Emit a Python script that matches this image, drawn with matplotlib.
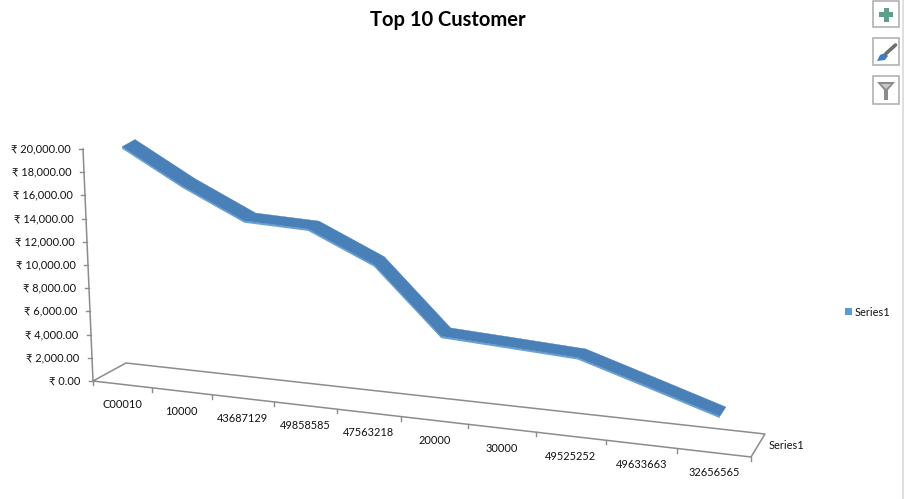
"""
Top 10 Customer - flat redraw of a spreadsheet 3D line chart.
The 3D look comes from a small floor homography, done by hand.
"""

import numpy as np
import matplotlib
matplotlib.use("Agg")
import matplotlib.pyplot as plt
from matplotlib.patches import Rectangle, Polygon

FONT = ['Lato', 'Noto Sans', 'DejaVu Sans']
plt.rcParams['font.family'] = FONT

customers = ['C00010', '10000', '43687129', '49858585', '47563218',
             '20000', '30000', '49525252', '49633663', '32656565']
sales = [20000, 17200, 14800, 14700, 12240, 6720, 6470, 6200, 4400, 2550]
value_ticks = [0, 2000, 4000, 6000, 8000, 10000, 12000, 14000, 16000, 18000, 20000]
series_name = 'Series1'

# Floor corners in pixels: front-left, front-right, back-right, back-left
FLOOR = [(93, 381), (751, 457), (765, 434), (126, 363)]
PX_PER_VALUE = 232 / 20000
LEAN = -10 / 232   # vertical axis leans left going up
LEAN_GROWTH = 0.012  # verticals straighten out further right (perspective)
RIBBON_DEPTH = (0.3, 0.7)
RIBBON_EDGE = 170  # thickness of the front strip, in value units
LABEL_SIZE = 7.9


def make_homography(corners):
    src = [(0, 0), (1, 0), (1, 1), (0, 1)]
    rows, rhs = [], []
    for (s, t), (x, y) in zip(src, corners):
        rows.append([s, t, 1, 0, 0, 0, -s * x, -t * x])
        rows.append([0, 0, 0, s, t, 1, -s * y, -t * y])
        rhs += [x, y]
    return np.append(np.linalg.solve(np.array(rows, float), np.array(rhs, float)), 1).reshape(3, 3)


H = make_homography(FLOOR)


def project(cat, value=0.0, depth=0.0):
    """cat runs 0..10 along the floor, depth 0..1 front to back"""
    p = H @ np.array([cat / len(customers), depth, 1.0])
    x, y = p[0] / p[2], p[1] / p[2]
    h = value * PX_PER_VALUE
    lean = LEAN + LEAN_GROWTH * max(cat - 2.5, 0)
    return x + lean * h, y - h


def rupee(v):
    return f'₹ {v:,.2f}'


fig = plt.figure(figsize=(9.05, 4.99), dpi=100, facecolor='white')
ax = fig.add_axes([0, 0, 1, 1])
ax.set_xlim(0, 905)
ax.set_ylim(499, 0)
ax.axis('off')

AXIS = '#8c8c8c'
n = len(customers)

# floor outline
ax.plot(*zip(*[project(0), project(n), project(n, 0, 1), project(0, 0, 1), project(0)]),
        color=AXIS, lw=1.1, solid_joinstyle='miter', zorder=1)

# value axis with ticks
ax.plot(*zip(project(0), project(0, value_ticks[-1])), color=AXIS, lw=1.1, zorder=1)
for v in value_ticks:
    x, y = project(0, v)
    ax.plot([x - 4, x], [y, y], color=AXIS, lw=1, zorder=1)
    ax.text(x - 12.5, y, rupee(v), ha='right', va='center', fontsize=LABEL_SIZE, color='#111111')

# category ticks and labels
for i in range(n + 1):
    x, y = project(i)
    ax.plot([x, x], [y, y + 4], color=AXIS, lw=1, zorder=1)
for i, name in enumerate(customers):
    x, y = project(i + 0.5)
    ax.text(x, y + 20, name, ha='center', va='center', fontsize=LABEL_SIZE, color='#111111')

# depth axis label
x, y = project(n, 0, 0.5)
ax.text(x + 10, y + 0.5, series_name, ha='left', va='center', fontsize=LABEL_SIZE, color='#111111')

# ribbon: front strip first, top face over it
d0, d1 = RIBBON_DEPTH
cats = np.arange(n) + 0.5
front = [project(c, v, d0) for c, v in zip(cats, sales)]
back = [project(c, v, d1) for c, v in zip(cats, sales)]
lower = [project(c, v - RIBBON_EDGE, d0) for c, v in zip(cats, sales)]
ax.add_patch(Polygon(front + lower[::-1], closed=True, fc='#6ba3d6', ec='none', zorder=2))
ax.add_patch(Polygon(front + back[::-1], closed=True, fc='#4a80b8', ec='#4a80b8', lw=0.3, zorder=3))

# title and legend
ax.text(448, 19.5, 'Top 10 Customer', ha='center', va='center', fontsize=14.5,
        fontweight='bold', color='black')
ax.add_patch(Rectangle((845, 308), 6.5, 7, fc='#5b9bd5', ec='none'))
ax.text(855, 312, series_name, ha='left', va='center', fontsize=LABEL_SIZE, color='#111111')

# chart side buttons from the spreadsheet UI
ax.plot([903, 903], [0, 499], color='#d9d9d9', lw=1.2)
for top, bottom in [(1, 27), (38, 65), (76, 104)]:
    ax.add_patch(Rectangle((872.5, top), 26.5, bottom - top, fc='white', ec='#ababab', lw=1.1))
ax.add_patch(Rectangle((879, 12), 14, 4.5, fc='#5f9e8a', ec='none'))
ax.add_patch(Rectangle((884, 7.5), 4.6, 14, fc='#5f9e8a', ec='none'))
ax.add_patch(Polygon([(877, 61), (880, 55), (885, 53), (888, 56), (885, 60)], fc='#3f7fc1', ec='none'))
ax.plot([886, 895.5], [53.5, 45], color='#6e6e6e', lw=2.6, solid_capstyle='round')
ax.add_patch(Polygon([(877, 82), (895, 82), (888, 90), (888, 100), (884, 100), (884, 90)],
                     fc='#8c8c8c', ec='none'))
ax.add_patch(Polygon([(881, 84), (891, 84), (886, 89)], fc='#c9c9c9', ec='none'))

fig.savefig('out.png', dpi=100, facecolor='white')
